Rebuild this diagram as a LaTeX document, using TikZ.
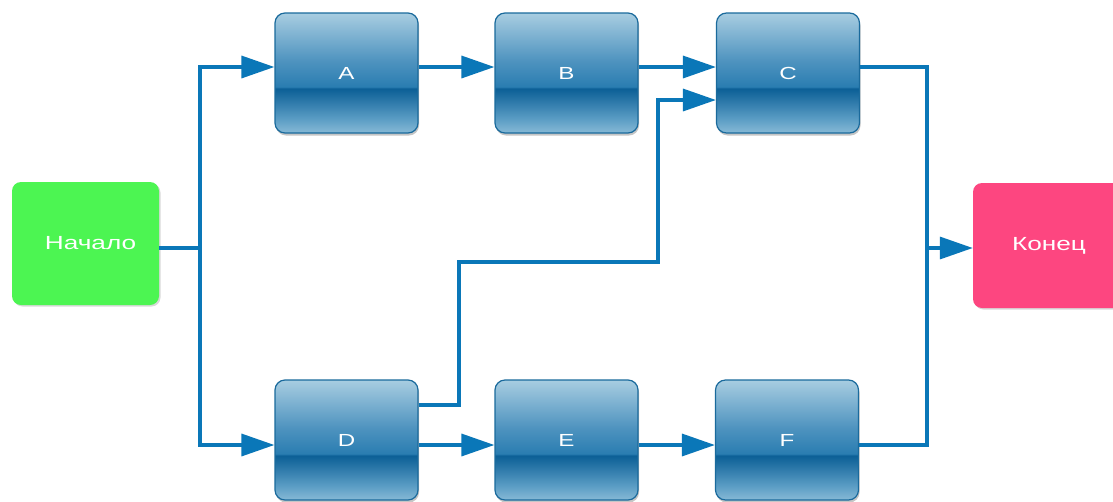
\documentclass[tikz,border=0pt]{standalone}
\usepackage{fontspec}
\setmainfont{Liberation Sans}
\usetikzlibrary{arrows.meta,shadows,calc}
\definecolor{lineblue}{HTML}{0A77B8}
\definecolor{boxborder}{HTML}{1A6A9C}
\definecolor{gbzero}{HTML}{86B9D6}
\definecolor{gbone}{HTML}{5A9CC4}
\definecolor{gbtwo}{HTML}{0B5F96}
\definecolor{gbthree}{HTML}{2A7DB1}
\definecolor{gbfour}{HTML}{4E93BF}
\definecolor{gbfive}{HTML}{A8CDE1}
\definecolor{startgreen}{HTML}{4CF552}
\definecolor{endpink}{HTML}{FD4680}
\pgfdeclareverticalshading{glossy}{100bp}{color(0bp)=(gbzero); color(25bp)=(gbzero); color(31bp)=(gbone); color(43.5bp)=(gbtwo); color(44.3bp)=(gbthree); color(55bp)=(gbfour); color(75bp)=(gbfive); color(100bp)=(gbfive)}
\tikzset{
  taskbox/.style={rounded corners=10pt, draw=boxborder, line width=1.2pt,
    shading=glossy, minimum width=143pt, minimum height=120pt,
    drop shadow={shadow xshift=1pt, shadow yshift=-2.5pt, opacity=0.45},
    text=white, font=\fontsize{17.5}{20}\selectfont},
  termbox/.style={rounded corners=9pt, draw=none,
    minimum width=147pt, minimum height=123pt,
    drop shadow={shadow xshift=1.5pt, shadow yshift=-1.5pt, opacity=0.3},
    text=white, font=\fontsize{19}{22}\selectfont},
  conn/.style={draw=lineblue, line width=3.4pt},
  arr/.style={conn, -{Triangle[length=33pt, width=22pt]}}
}
\newcommand{\wide}[1]{\scalebox{1.38}[1]{#1}}
\begin{document}
\begin{tikzpicture}[x=1pt,y=-1pt]
\useasboundingbox (0,0) rectangle (1113,501);
\fill[white] (0,0) rectangle (1113,501);
\node[taskbox] (A) at (346.5,73) {\wide{A}};
\node[taskbox] (B) at (566.5,73) {\wide{B}};
\node[taskbox] (C) at (788,73) {\wide{C}};
\node[taskbox] (D) at (346.5,440) {\wide{D}};
\node[taskbox] (E) at (566.5,440) {\wide{E}};
\node[taskbox] (F) at (787,440) {\wide{F}};
\node[termbox, fill=startgreen] (S) at (85.5,243.5) {\hspace*{10pt}\wide{Начало}};
\node[termbox, fill=endpink, minimum width=152pt, minimum height=125pt] (T) at (1049,245.5) {\wide{Конец}};
\coordinate (j1) at (200,248);
\coordinate (j2) at (927,248);
\coordinate (r1) at (459,262);
\coordinate (r2) at (658,262);
\draw[conn] (S.east |- j1) -- (j1);
\draw[arr] (j1) |- ([yshift=6pt]A.west);
\draw[arr] (j1) |- ([yshift=-5pt]D.west);
\draw[arr] ([yshift=6pt]A.east) -- ([yshift=6pt]B.west);
\draw[arr] ([yshift=6pt]B.east) -- ([yshift=6pt]C.west);
\draw[arr] ([yshift=35pt]D.east) -| (r1) -- (r2) |- ([yshift=-27pt]C.west);
\draw[arr] ([yshift=-5pt]D.east) -- ([yshift=-5pt]E.west);
\draw[arr] ([yshift=-5pt]E.east) -- ([yshift=-5pt]F.west);
\draw[conn] ([yshift=6pt]C.east) -| (j2);
\draw[conn] ([yshift=-5pt]F.east) -| (j2);
\draw[arr] (j2) -- (T.west |- j2);
\end{tikzpicture}
\end{document}
